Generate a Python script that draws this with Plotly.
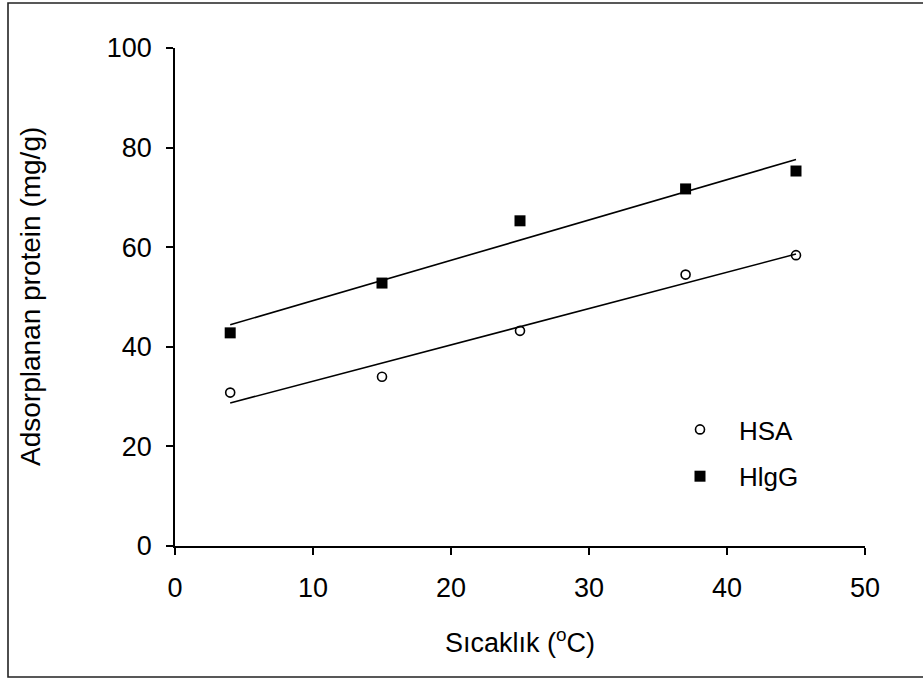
import numpy as np
import plotly.graph_objects as go

# Data
temperature = [4, 15, 25, 37, 45]
hsa_values = [30.8, 34.0, 43.2, 54.5, 58.4]
higg_values = [42.8, 52.8, 65.3, 71.7, 75.3]
series_names = ["HSA", "HlgG"]
x_ticks = [0, 10, 20, 30, 40, 50]
y_ticks = [0, 20, 40, 60, 80, 100]

FONT = "Liberation Sans, Arial, sans-serif"

fig = go.Figure()

# Linear trend lines (least squares fit of each series)
x_arr = np.array(temperature, dtype=float)
for vals in (hsa_values, higg_values):
    k, b = np.polyfit(x_arr, np.array(vals, dtype=float), 1)
    xs = [x_arr.min(), x_arr.max()]
    fig.add_trace(go.Scatter(
        x=xs, y=[k * xv + b for xv in xs], mode="lines",
        line=dict(color="black", width=1.6), showlegend=False, hoverinfo="skip"))

fig.add_trace(go.Scatter(
    x=temperature, y=hsa_values, mode="markers", name=series_names[0],
    legendgroup="a",
    marker=dict(symbol="circle-open", size=9, color="black", line=dict(width=1.6, color="black"))))
fig.add_trace(go.Scatter(
    x=temperature, y=higg_values, mode="markers", name=series_names[1],
    legendgroup="b",
    marker=dict(symbol="square", size=11, color="black")))

axis_common = dict(
    showline=True, linecolor="black", linewidth=1.6,
    ticks="outside", ticklen=7, tickwidth=1.6, tickcolor="black",
    showgrid=False, zeroline=False,
    tickfont=dict(family=FONT, size=27, color="black"),
)

fig.update_xaxes(range=[0, 50], tickvals=x_ticks, ticklabelstandoff=10, **axis_common)
fig.update_yaxes(range=[0, 100], tickvals=y_ticks, ticklabelstandoff=9, **axis_common)

fig.update_layout(
    width=923, height=681,
    margin=dict(l=175, r=58, t=48, b=135),
    plot_bgcolor="white", paper_bgcolor="white",
    font=dict(family=FONT, size=26, color="black"),
    legend=dict(
        x=(661 - 175) / 690, y=(546 - 406) / 498, xanchor="left", yanchor="top",
        bgcolor="rgba(0,0,0,0)", font=dict(family=FONT, size=26, color="black"),
        tracegroupgap=10, itemwidth=68,
    ),
    annotations=[
        dict(text="Sıcaklık (<sup>o</sup>C)", xref="paper", yref="paper", x=0.5, y=0,
             yshift=-95, showarrow=False, font=dict(family=FONT, size=27, color="black"),
             xanchor="center", yanchor="middle"),
        dict(text="Adsorplanan protein (mg/g)", xref="paper", yref="paper", x=0, y=0.5,
             xshift=-145, textangle=-90, showarrow=False,
             font=dict(family=FONT, size=28, color="black"),
             xanchor="center", yanchor="middle"),
    ],
    shapes=[
        dict(type="rect", xref="paper", yref="paper",
             x0=(8 - 175) / 690, x1=(930 - 175) / 690,
             y0=(546 - 677) / 498, y1=(546 - 3) / 498,
             line=dict(color="#222222", width=1.6), fillcolor="rgba(0,0,0,0)", layer="below"),
    ],
)

fig.write_html("out.html", config={"displayModeBar": False},
               post_script="document.body.style.margin='0';")
